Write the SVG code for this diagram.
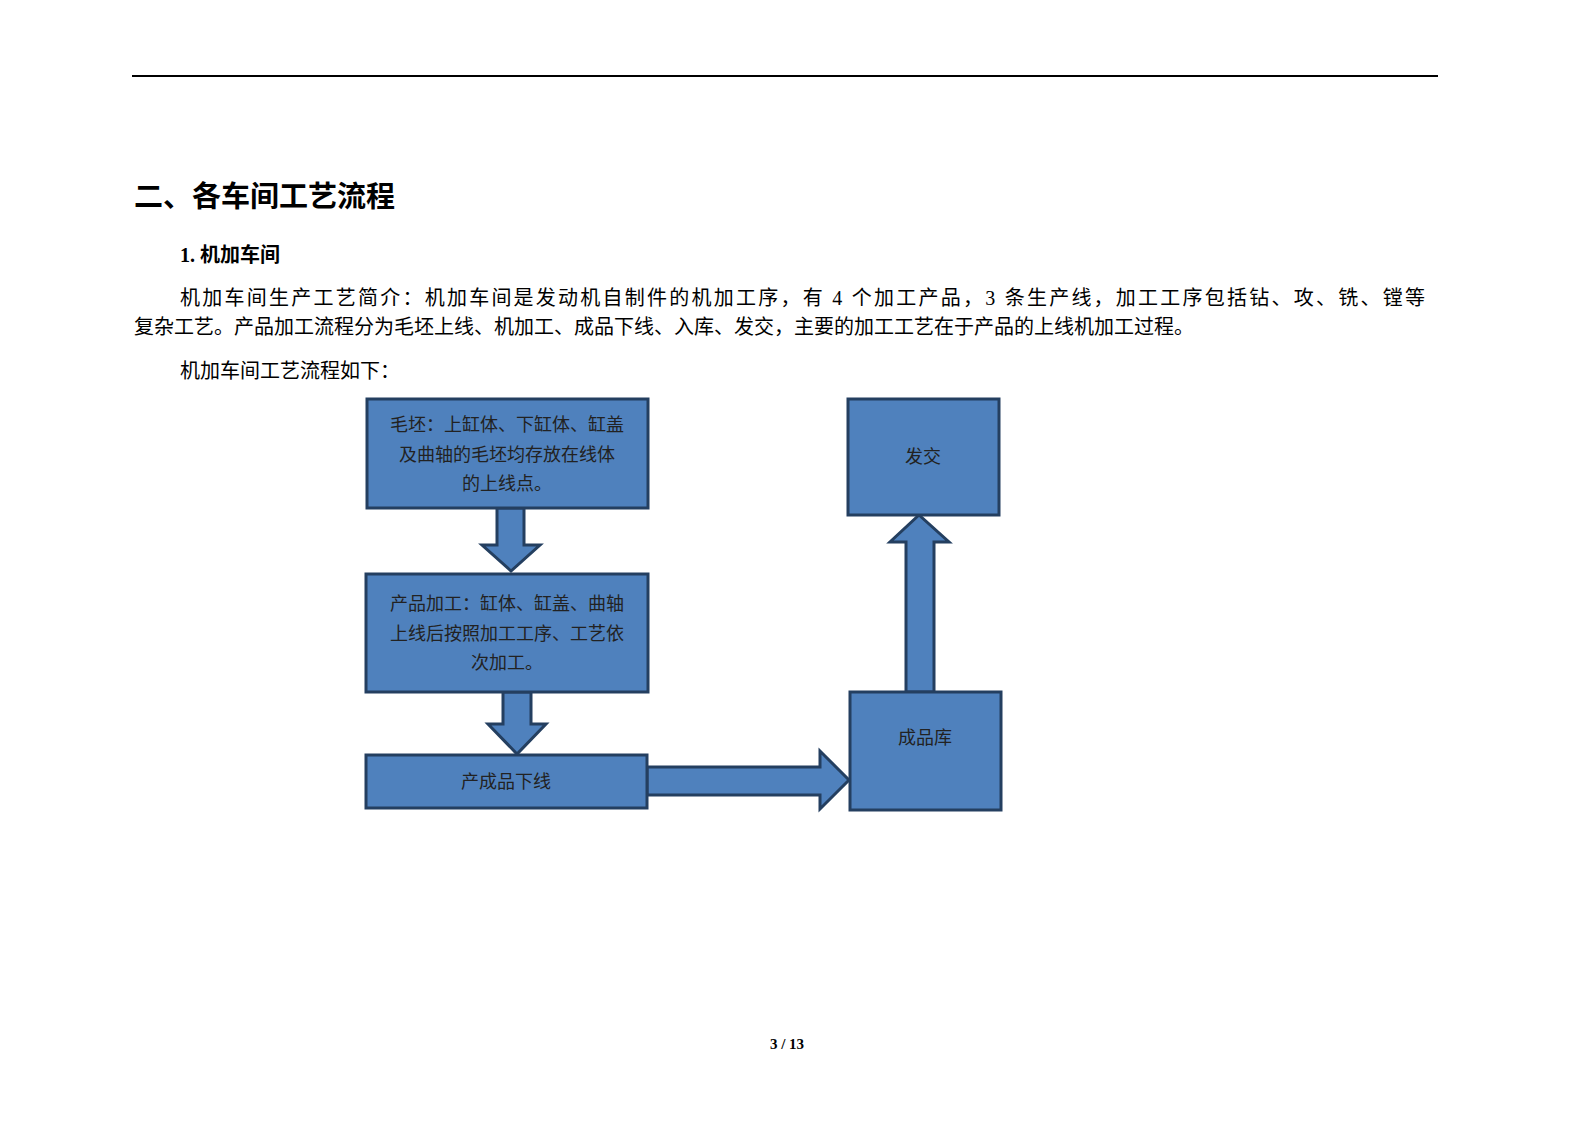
<svg xmlns="http://www.w3.org/2000/svg" width="1587" height="1122" viewBox="0 0 1587 1122">
<style>
.t{font-family:"Liberation Serif","Noto Sans CJK SC",serif;fill:#000}
.n{fill:#4f81bd;stroke:#243f60;stroke-width:3}
.nt{font-family:"Liberation Serif","Noto Sans CJK SC",serif;font-size:18px;fill:#222;text-anchor:middle}
</style>
<rect width="1587" height="1122" fill="#fff"/>
<line x1="132" y1="76" x2="1438" y2="76" stroke="#000" stroke-width="2"/>
<text class="t" x="134" y="207" font-size="29" font-weight="bold">二、各车间工艺流程</text>
<text class="t" x="180" y="262" font-size="20" font-weight="bold">1. 机加车间</text>
<text class="t" x="180" y="305" font-size="20" textLength="1245" lengthAdjust="spacing">机加车间生产工艺简介：机加车间是发动机自制件的机加工序，有 4 个加工产品，3 条生产线，加工工序包括钻、攻、铣、镗等</text>
<text class="t" x="134" y="334" font-size="20">复杂工艺。产品加工流程分为毛坯上线、机加工、成品下线、入库、发交，主要的加工工艺在于产品的上线机加工过程。</text>
<text class="t" x="180" y="378" font-size="20">机加车间工艺流程如下：</text>
<g id="connectors">
<polygon class="n" points="497,508 524,508 524,545 540,545 511,571 482,545 497,545"/>
<polygon class="n" points="503,692 531,692 531,724 546,724 517,754 488,724 503,724"/>
<polygon class="n" points="647,767 820,767 820,751 849,780 820,809 820,795 647,795"/>
<polygon class="n" points="906,692 906,542 890,542 919,515 949,542 934,542 934,692"/>
</g>
<g id="n1"><rect class="n" x="367" y="399" width="281" height="109"/>
<text class="nt" x="507" y="431">毛坯：上缸体、下缸体、缸盖</text>
<text class="nt" x="507" y="461">及曲轴的毛坯均存放在线体</text>
<text class="nt" x="507" y="490">的上线点。</text></g>
<g id="n2"><rect class="n" x="366" y="574" width="282" height="118"/>
<text class="nt" x="507" y="610">产品加工：缸体、缸盖、曲轴</text>
<text class="nt" x="507" y="640">上线后按照加工工序、工艺依</text>
<text class="nt" x="507" y="669">次加工。</text></g>
<g id="n3"><rect class="n" x="366" y="755" width="281" height="53"/>
<text class="nt" x="506" y="788">产成品下线</text></g>
<g id="n4"><rect class="n" x="850" y="692" width="151" height="118"/>
<text class="nt" x="925" y="744">成品库</text></g>
<g id="n5"><rect class="n" x="848" y="399" width="151" height="116"/>
<text class="nt" x="923" y="463">发交</text></g>
<text class="t" x="787" y="1049" font-size="15" font-weight="bold" text-anchor="middle">3 / 13</text>
</svg>
